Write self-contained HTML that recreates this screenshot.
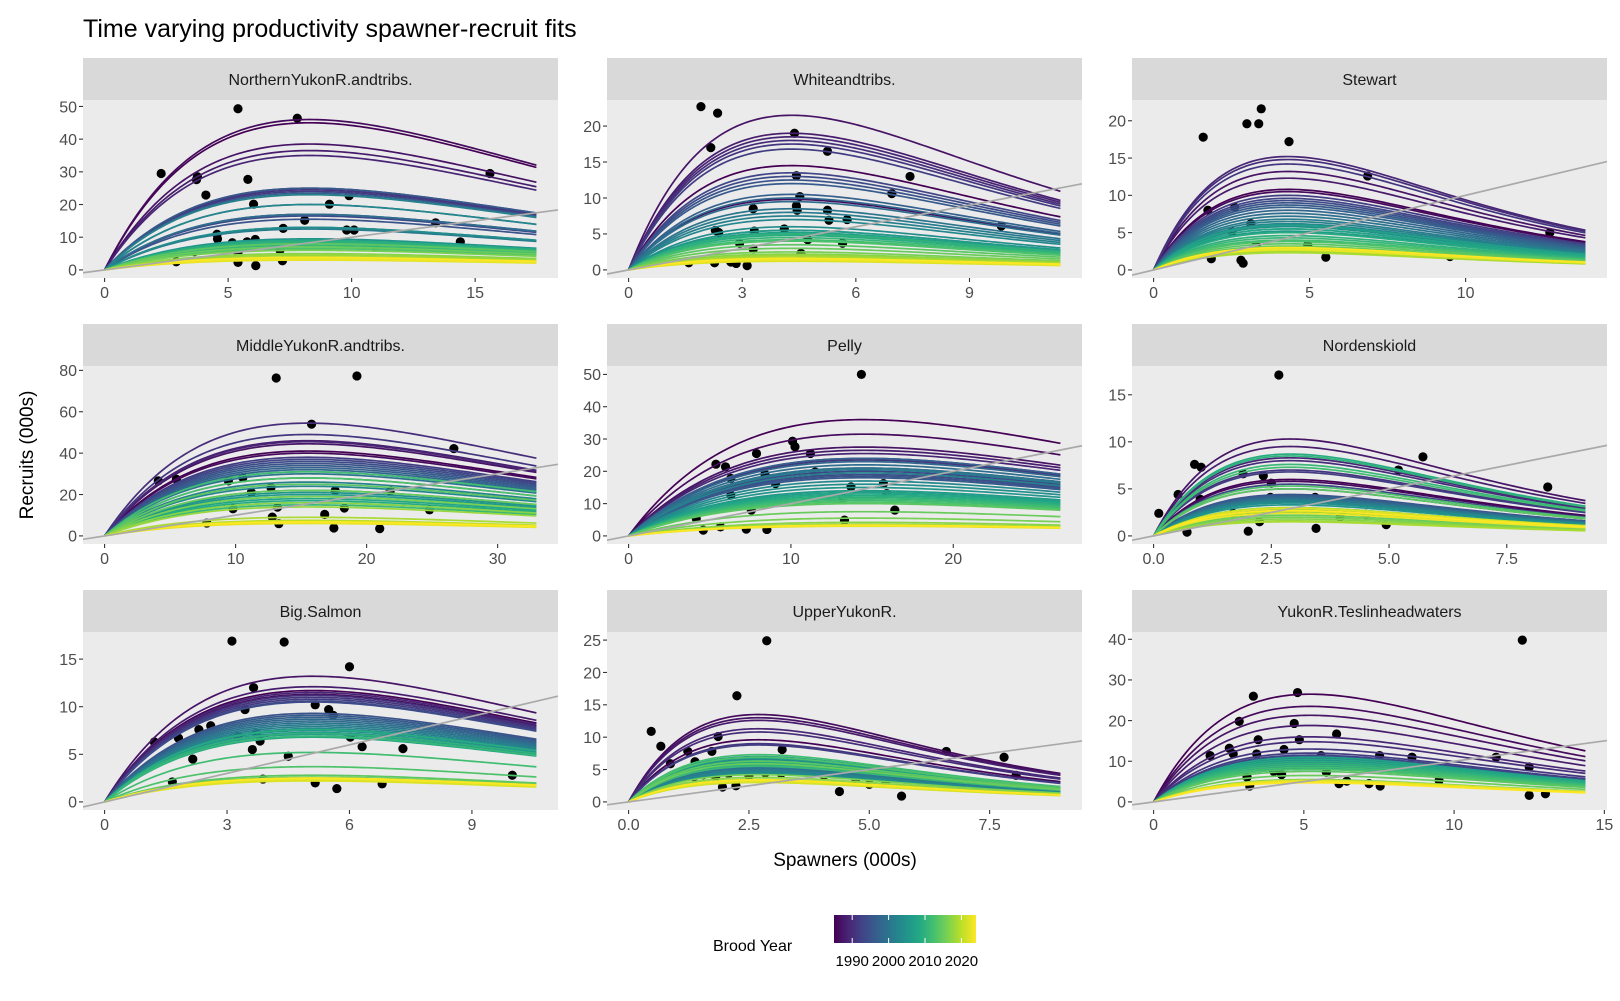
<!DOCTYPE html>
<html><head><meta charset="utf-8"><style>
html,body{margin:0;padding:0;background:#fff;}
svg{display:block;font-family:"Liberation Sans",Arial,sans-serif;}
</style></head><body>
<svg id="chart" width="1620" height="1001" viewBox="0 0 1620 1001" xmlns="http://www.w3.org/2000/svg">
<text x="83" y="37" font-size="25" fill="#000">Time varying productivity spawner-recruit fits</text>
<text transform="translate(33,455) rotate(-90)" text-anchor="middle" font-size="19" fill="#000">Recruits (000s)</text>
<text x="845" y="866" text-anchor="middle" font-size="19" fill="#000">Spawners (000s)</text>
<g id="panels"></g>
<g id="legend"></g>
</svg>
<script>
const panelNames = ["NorthernYukonR.andtribs.","Whiteandtribs.","Stewart","MiddleYukonR.andtribs.","Pelly","Nordenskiold","Big.Salmon","UpperYukonR.","YukonR.Teslinheadwaters"];
const xMax = [17.48, 11.4, 13.84, 32.96, 26.6, 9.17, 10.58, 8.97, 14.37];
const yMax = [49.5, 22.5, 21.7, 78.2, 50.1, 17.2, 17.0, 25.0, 39.8];
const sPeak = [8.3, 4.3, 4.3, 15.5, 14.5, 2.9, 5.1, 2.7, 5.2];
const xTicks = [[0,5,10,15],[0,3,6,9],[0,5,10],[0,10,20,30],[0,10,20],[0,2.5,5,7.5],[0,3,6,9],[0,2.5,5,7.5],[0,5,10,15]];
const xTickLabels = [["0","5","10","15"],["0","3","6","9"],["0","5","10"],["0","10","20","30"],["0","10","20"],["0.0","2.5","5.0","7.5"],["0","3","6","9"],["0.0","2.5","5.0","7.5"],["0","5","10","15"]];
const yTicks = [[0,10,20,30,40,50],[0,5,10,15,20],[0,5,10,15,20],[0,20,40,60,80],[0,10,20,30,40,50],[0,5,10,15],[0,5,10,15],[0,5,10,15,20,25],[0,10,20,30,40]];
const broodYears = [];
for (let y = 1985; y <= 2024; y++) broodYears.push(y);
const colorTicks = [1990, 2000, 2010, 2020];

const peakP1 = [45,46,38.5,36.5,35,25,24.5,24,17,16.5,15.5,25,23.5,20,17,13,12.5,23,20,13,9.5,9,8.5,8,9,8.5,7.5,7,6.5,8,7,6,5,4.5,4,3.5,3.5,3,3.2,3.8];
const peakP2 = [14.5,9.8,21.5,19,18.5,18,17.5,16.8,13.5,13,12.5,12,10.5,10,9.5,8.5,8,7.5,7,6,5.5,5.5,5.2,5,4.8,5,4.5,4.2,4,3.5,3,2.5,2.2,2,1.8,1.5,1.3,1.2,1.4,1.6];
const peakP3 = [10.8,10.5,13.2,12.3,15.2,14.8,14.2,10,9.6,9.3,9,8.7,8.4,8,7.6,7.2,6.8,6.5,6.2,5.8,5.5,5.2,6,5.5,5,4.6,4.3,4,3.8,3.5,3.2,3,2.8,2.5,2.3,2.6,2.8,2.9,2.7,3];
const peakP4 = [41,40,44.5,46,45.5,54.5,49,38,37,36,35,34,33,32,31,30,28,26,24,22,21,20,19,18,17,16,15,31,28,25,22,19,16,14,9,7.5,6.5,6,6.2,6.8];
const peakP5 = [36,31.5,27.5,26.5,25.5,24,23.5,21,20,19,18.5,18,24,23,22,21,20.5,19.5,17,16,15,14,13.5,13,12.5,12,11.5,11,10.5,10,7.5,5.5,4.2,3.6,3.4,3.3,3.2,3,3.1,3.3];
const peakP6 = [6,5.8,10.3,9.5,8.3,8,7,6.8,5.5,5,4.4,4.3,4.2,4.1,4,3.9,3.8,3.7,3.6,3.5,3.3,3,2.8,2.5,8.7,8.5,7.6,7.3,5.3,5,2.2,2,1.8,1.6,1.5,3,2.6,2.9,2.4,2.7];
const peakP7 = [11.7,11.3,13.2,12.1,11.5,11.2,11,10.8,10.6,10.5,9.3,9.1,8.9,8.7,8.5,8.3,8.1,7.9,7.7,7.5,7.3,7.1,6.9,6.8,7.6,7.2,6.9,5.2,3.7,2.8,2.6,2.5,2.4,2.3,2.4,2.5,2.3,2.2,2.4,2.5];
const peakP8 = [9.6,13.5,13,12.6,11.3,10.8,9,8.8,6.8,6.5,6.2,6,5.8,5.6,5.4,5.2,5,4.8,4.6,4.4,7,6.7,6.4,6.1,5.9,5.7,5.5,7.3,6.9,6.3,5.9,4.2,3.8,3.5,3.4,3.2,3,3.1,3.3,3.4];
const peakP9 = [26.5,23.5,21.3,18.8,16,14.8,13,12,11.5,11.2,11,10.8,10.5,10.2,10,9.7,9.4,9.1,8.8,8.5,8.2,8,11,10.5,10,9.5,9,8.5,8,7.5,6.5,5.5,5.2,5,4.8,4.9,5.1,5.3,5,4.7];
const peaks = [peakP1,peakP2,peakP3,peakP4,peakP5,peakP6,peakP7,peakP8,peakP9];

const ptsP1 = [[2.29,29.5],[5.4,49.3],[7.8,46.4],[3.72,27.6],[3.76,28.5],[4.1,22.9],[5.8,27.7],[6.03,20.1],[4.55,10.9],[4.57,9.5],[5.17,8.3],[5.4,5.3],[5.4,2.3],[5.77,8.6],[6.1,9.3],[6.12,1.3],[7.23,12.7],[7.1,6.1],[7.2,2.8],[8.1,15.2],[9.1,20.1],[9.9,22.7],[9.8,12.2],[10.1,12.2],[10.98,6.9],[13.4,14.4],[14.4,8.6],[15.6,29.5],[2.9,2.5],[3.64,5.6]];
const ptsP2 = [[1.91,22.7],[2.35,21.8],[2.17,17.0],[4.38,19.0],[5.25,16.5],[4.43,13.1],[4.52,10.2],[4.43,8.9],[4.45,8.3],[3.29,8.5],[7.43,13.0],[6.95,10.6],[5.25,8.3],[5.29,6.9],[5.77,7.0],[4.11,5.7],[2.29,5.5],[2.38,5.2],[3.32,5.4],[3.29,2.9],[2.93,3.7],[4.55,2.3],[1.59,1.0],[2.27,1.0],[2.7,1.1],[2.84,0.9],[3.13,0.6],[4.73,4.2],[5.65,3.7],[9.84,6.1]];
const ptsP3 = [[1.59,17.8],[2.99,19.6],[3.37,19.6],[3.45,21.6],[4.34,17.2],[6.86,12.6],[1.74,8.0],[1.85,1.5],[2.87,0.9],[2.8,1.3],[5.52,1.7],[4.94,3.3],[12.7,5.0],[9.5,1.8],[2.51,5.1],[3.12,6.2],[2.6,8.4],[3.29,3.3]];
const ptsP4 = [[13.1,76.3],[19.26,77.3],[15.8,54.0],[26.66,42.2],[4.1,26.6],[5.48,27.4],[9.45,26.6],[10.55,28.2],[11.2,21.0],[12.7,23.4],[17.6,21.8],[16.8,10.4],[18.3,13.5],[13.2,13.9],[12.8,9.1],[13.3,5.9],[17.5,3.8],[21.0,3.5],[24.8,12.6],[9.8,13.1],[7.8,6.2],[21.8,21.8]];
const ptsP5 = [[14.34,50],[10.1,29.3],[10.25,27.6],[7.88,25.5],[5.38,22.2],[5.97,21.4],[11.2,25.5],[8.4,19.1],[9.05,16.2],[11.5,19.8],[6.3,17.8],[6.3,12.6],[13.7,15.2],[13.2,11.6],[15.7,16.2],[15.9,13.1],[16.4,8.0],[13.3,4.9],[4.17,5.4],[4.6,1.8],[5.66,2.8],[7.25,2.1],[8.52,2.0],[7.56,8.0],[7.67,10.2]];
const ptsP6 = [[2.66,17.1],[0.87,7.6],[1.01,7.3],[1.9,6.6],[2.33,6.4],[2.5,5.6],[5.72,8.4],[5.2,7.0],[8.37,5.2],[0.11,2.4],[0.52,4.4],[0.71,0.4],[0.99,3.9],[2.01,0.5],[2.25,1.5],[2.48,4.1],[3.43,4.1],[3.45,0.8],[3.96,2.0],[4.51,2.3],[4.94,1.2],[1.69,2.4]];
const ptsP7 = [[3.12,16.9],[4.4,16.8],[6.0,14.2],[3.65,12.0],[5.16,10.2],[5.49,9.7],[5.6,9.1],[3.44,9.7],[1.22,6.3],[1.81,6.7],[2.31,7.6],[2.6,8.0],[3.27,6.9],[3.72,7.2],[3.81,6.4],[3.62,5.5],[2.16,4.5],[4.5,4.8],[6.02,6.8],[6.31,5.8],[7.31,5.6],[1.66,2.1],[3.88,2.4],[5.16,2.0],[5.69,1.4],[6.8,1.9],[9.99,2.8]];
const ptsP8 = [[2.87,24.9],[2.25,16.4],[0.47,10.9],[0.67,8.6],[1.86,10.1],[1.73,7.8],[1.23,7.8],[0.87,5.9],[3.19,8.1],[1.36,3.9],[1.55,4.2],[1.81,3.9],[1.95,2.3],[2.08,4.4],[2.23,2.5],[2.5,4.1],[2.84,4.5],[3.17,4.4],[4.06,4.1],[4.38,1.6],[4.72,3.5],[5.0,2.7],[5.34,3.0],[5.67,0.9],[6.6,7.8],[7.8,6.9],[8.05,4.1],[1.38,6.2]];
const ptsP9 = [[12.27,39.8],[3.32,26.0],[4.79,26.9],[2.85,19.8],[4.68,19.3],[3.48,15.3],[4.85,15.3],[6.09,16.7],[2.52,13.2],[2.65,11.8],[3.43,11.8],[4.34,12.9],[1.88,11.4],[3.11,6.1],[3.2,3.9],[4.0,7.5],[4.26,6.7],[5.75,7.3],[6.17,4.5],[6.43,5.1],[7.17,4.5],[7.54,3.9],[7.52,11.4],[8.6,11.0],[9.5,5.3],[11.4,11.0],[12.5,8.6],[12.5,1.6],[13.04,2.0],[5.57,11.4]];
const points = [ptsP1,ptsP2,ptsP3,ptsP4,ptsP5,ptsP6,ptsP7,ptsP8,ptsP9];

const NS = "http://www.w3.org/2000/svg";
const vir = ["#440154","#482475","#414487","#355f8d","#2a788e","#21918c","#22a884","#44bf70","#7ad151","#bddf26","#fde725"];
function hex(c){return [parseInt(c.slice(1,3),16),parseInt(c.slice(3,5),16),parseInt(c.slice(5,7),16)];}
function viridis(t){
  t=Math.max(0,Math.min(1,t)); const f=t*10; const i=Math.min(9,Math.floor(f)); const u=f-i;
  const a=hex(vir[i]), b=hex(vir[i+1]);
  return "rgb("+a.map((v,k)=>Math.round(v+(b[k]-v)*u)).join(",")+")";
}
const yr0 = broodYears[0], yr1 = broodYears[broodYears.length-1];
function mk(tag, attrs, parent){const e=document.createElementNS(NS,tag);for(const k in attrs)e.setAttribute(k,attrs[k]);parent.appendChild(e);return e;}

const colLeft=[83,607,1132], panelW=475, panelH=178, stripH=42;
const rowTop=[100,366,632];
const root=document.getElementById("panels");
const defs=mk("defs",{},root);

panelNames.forEach((name,p)=>{
  const c=p%3, r=Math.floor(p/3);
  const L=colLeft[c], T=rowTop[r];
  const X=xMax[p], Y=yMax[p];
  const x0=-0.05*X, x1=1.05*X, y0=-0.05*Y, y1=1.05*Y;
  const sx=v=>L+(v-x0)/(x1-x0)*panelW;
  const sy=v=>T+panelH-(v-y0)/(y1-y0)*panelH;
  const g=mk("g",{},root);
  
  
  const strip=mk("rect",{x:L,y:T-stripH,width:panelW,height:stripH,fill:"#d9d9d9"},g);
  
  
  const st=mk("text",{x:L+panelW/2,y:T-stripH/2+6,"text-anchor":"middle","font-size":"16",fill:"#1a1a1a"},g);
  st.textContent=name;
  
  
  const bg=mk("rect",{x:L,y:T,width:panelW,height:panelH,fill:"#ebebeb"},g);
  
  
  const cp=mk("clipPath",{id:"clip"+p},defs);
  mk("rect",{x:L,y:T,width:panelW,height:panelH},cp);
  const inner=mk("g",{"clip-path":"url(#clip"+p+")"},g);
  points[p].forEach(pt=>{
    const d=mk("circle",{cx:sx(pt[0]),cy:sy(pt[1]),r:4.6,fill:"#000"},inner);
    
    
  });
  peaks[p].forEach((pk,i)=>{
    const sm=sPeak[p]; let d="";
    for(let k=0;k<=120;k++){const s=X*k/120;const rr=pk*(s/sm)*Math.exp(1-s/sm);d+=(k?"L":"M")+sx(s).toFixed(2)+","+sy(rr).toFixed(2);}
    const path=mk("path",{d:d,fill:"none",stroke:viridis((broodYears[i]-yr0)/(yr1-yr0)),"stroke-width":1.7},inner);
    
    
  });
  const ab=mk("line",{x1:sx(x0),y1:sy(x0),x2:sx(x1),y2:sy(x1),stroke:"#a9a9a9","stroke-width":1.7},inner);
  
  
  yTicks[p].forEach(v=>{
    mk("line",{x1:L-4,x2:L,y1:sy(v),y2:sy(v),stroke:"#333","stroke-width":1.1},g);
    const t=mk("text",{x:L-6,y:sy(v)+5.8,"text-anchor":"end","font-size":"16",fill:"#4d4d4d"},g);
    t.textContent=String(v);
    
    
  });
  xTicks[p].forEach((v,k)=>{
    mk("line",{x1:sx(v),x2:sx(v),y1:T+panelH,y2:T+panelH+4,stroke:"#333","stroke-width":1.1},g);
    const t=mk("text",{x:sx(v),y:T+panelH+20,"text-anchor":"middle","font-size":"16",fill:"#4d4d4d"},g);
    t.textContent=xTickLabels[p][k];
    
    
  });
});

const lg=document.getElementById("legend");
const bx0=834,bx1=976,by0=915,by1=943;
const lt=mk("text",{x:713,y:951,"font-size":"16",fill:"#000"},lg);
lt.textContent="Brood Year";


const grad=mk("linearGradient",{id:"vgrad",x1:"0",x2:"1",y1:"0",y2:"0"},defs);
for(let k=0;k<=10;k++){mk("stop",{offset:(k/10),"stop-color":vir[k]},grad);}
const bar=mk("rect",{x:bx0,y:by0,width:bx1-bx0,height:by1-by0,fill:"url(#vgrad)"},lg);


colorTicks.forEach(yv=>{
  const x=bx0+(yv-yr0)/(yr1-yr0)*(bx1-bx0);
  mk("line",{x1:x,x2:x,y1:by0,y2:by0+5,stroke:"#fff","stroke-width":1},lg);
  mk("line",{x1:x,x2:x,y1:by1-5,y2:by1,stroke:"#fff","stroke-width":1},lg);
  const t=mk("text",{x:x,y:966,"text-anchor":"middle","font-size":"15",fill:"#000"},lg);
  t.textContent=String(yv);
  
  
});
</script>
</body></html>
